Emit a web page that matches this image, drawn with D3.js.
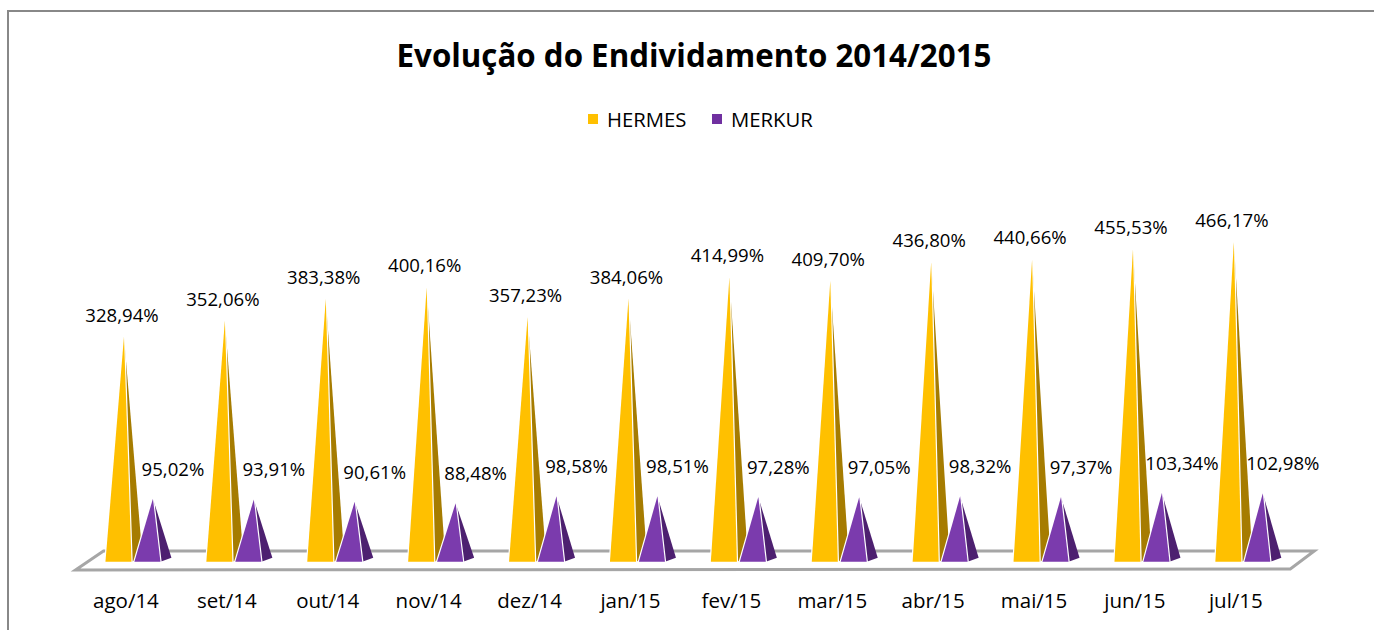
<!DOCTYPE html>
<html>
<head>
<meta charset="utf-8">
<script src="https://cdn.jsdelivr.net/npm/d3@7"></script>
<style>
  html, body { margin: 0; padding: 0; background: #fff; }
  svg { display: block; }
  text { font-family: "Open Sans", "Noto Sans", sans-serif; fill: #000; }
</style>
</head>
<body>
<script>
const title = "Evolução do Endividamento 2014/2015";
const categories = ["ago/14","set/14","out/14","nov/14","dez/14","jan/15","fev/15","mar/15","abr/15","mai/15","jun/15","jul/15"];
const seriesNames = ["HERMES","MERKUR"];
const hermes = [328.94,352.06,383.38,400.16,357.23,384.06,414.99,409.70,436.80,440.66,455.53,466.17];
const merkur = [95.02,93.91,90.61,88.48,98.58,98.51,97.28,97.05,98.32,97.37,103.34,102.98];
const frontColors = ["#FFC000","#7B3BAD"];
const sideColors = ["#A67C00","#4D2070"];
const legendColors = ["#FFC000","#7030A0"];

const W = 1374, H = 630;
const svg = d3.select("body").append("svg").attr("width", W).attr("height", H);

// outer chart border
svg.append("rect").attr("x", 8).attr("y", 11).attr("width", 1420).attr("height", 700)
  .attr("fill", "#fff").attr("stroke", "#888").attr("stroke-width", 2);

const locale = d3.formatLocale({decimal: ",", thousands: ".", grouping: [3], currency: ["", ""]});
const fmt = v => locale.format(".2f")(v) + "%";

const x = d3.scaleBand().domain(categories).range([75.5, 1286.3]);
const xs = d3.scaleBand().domain(seriesNames).range([-20.5, 34.5]).paddingInner(0.1);
const y = d3.scaleLinear().domain([0, 500]).range([564.4, 218.4]);

const baseY = 561.7;
const depth = [11, -4];

// floor
const floorFront = 570, floorBack = 551;
const fl = x.range()[0], fr = x.range()[1] + 4;
svg.append("path")
  .attr("d", `M${fl},${floorFront}L${fr},${floorFront-1}L${fr+24},${floorBack}L${fl+28},${floorBack}Z`)
  .attr("fill", "#fff").attr("stroke", "#a6a6a6").attr("stroke-width", 3).attr("stroke-linejoin", "miter");

// title
const t = svg.append("text").attr("x", 694).attr("y", 67).attr("text-anchor", "middle")
  .attr("font-weight", "bold").attr("font-size", 28).text(title);
const tw = t.node().getComputedTextLength();
t.attr("font-size", 28 * 595 / tw);

// legend
const legendX = [588, 712];
seriesNames.forEach((s, i) => {
  svg.append("rect").attr("x", legendX[i]).attr("y", 114).attr("width", 10).attr("height", 10)
    .attr("fill", legendColors[i]);
  svg.append("text").attr("x", legendX[i] + 19).attr("y", 126.5).attr("font-size", 20.3).text(s);
});

// pyramids
const series = [hermes, merkur];
const g = svg.append("g");
categories.forEach((c, ci) => {
  seriesNames.forEach((s, si) => {
    const v = series[si][ci];
    const x0 = x(c) + x.bandwidth() / 2 + xs(s);
    const w = xs.bandwidth();
    const FL = [x0, baseY], FR = [x0 + w, baseY], BR = [x0 + w + depth[0], baseY + depth[1]];
    const A = [x0 + w / 2 + depth[0] / 2, y(v)];
    g.append("path").attr("d", `M${FR}L${BR}L${A}Z`).attr("fill", sideColors[si]);
    const front = `M${FL}L${FR}L${A}Z`;
    g.append("path").attr("d", front).attr("fill", "none")
      .attr("stroke", "#fff").attr("stroke-width", 2.4).attr("stroke-linejoin", "miter");
    g.append("path").attr("d", front).attr("fill", frontColors[si]);
  });
});

// data labels
categories.forEach((c, ci) => {
  seriesNames.forEach((s, si) => {
    const v = series[si][ci];
    const x0 = x(c) + x.bandwidth() / 2 + xs(s);
    const ax = x0 + xs.bandwidth() / 2 + depth[0] / 2;
    const lx = si === 0 ? ax - 2 : ax + 20;
    const ly = si === 0 ? y(v) - 15 : y(v) - 23;
    svg.append("text").attr("x", lx).attr("y", ly).attr("text-anchor", "middle")
      .attr("font-size", 18.6).text(fmt(v));
  });
});

// category axis labels
svg.append("g").selectAll("text").data(categories).join("text")
  .attr("x", d => x(d) + x.bandwidth() / 2).attr("y", 607.5)
  .attr("text-anchor", "middle").attr("font-size", 20.5).text(d => d);
</script>
</body>
</html>
